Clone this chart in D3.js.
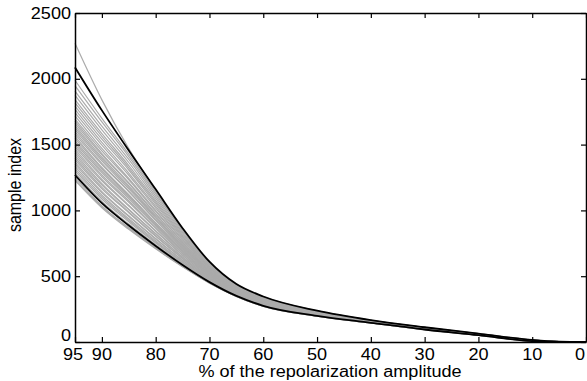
<!DOCTYPE html>
<html><head><meta charset="utf-8">
<script src="https://cdn.jsdelivr.net/npm/d3@7"></script>
<style>body{margin:0;background:#fff}svg{display:block}</style>
</head><body><svg id="c" width="587" height="381"></svg>
<script>
const xPercent = [95,90,85,80,75,70,65,60,50,40,30,20,10,5,0];
const xTickValues = [95,90,80,70,60,50,40,30,20,10,0];
const yTickValues = [0,500,1000,1500,2000,2500];
const upperBlack = [2087,1760,1455,1160,865,610,440,346,238,166,112,64,16,3,0];
const lowerBlack = [1269,1055,885,730,585,455,350,275,198,146,95,52,6,0,0];
const grayCurves = [
 [1228,1020,856,708,571,447,346,271,196,145,94,51,6,0,0],
 [1236,1030,868,717,577,450,347,273,197,145,94,52,6,0,0],
 [1253,1034,862,713,574,449,347,272,196,145,94,52,6,0,0],
 [1269,1059,891,734,588,457,351,276,198,146,95,52,6,0,0],
 [1285,1069,896,739,591,458,352,276,199,146,95,52,6,0,0],
 [1302,1087,914,752,599,463,354,279,200,147,96,53,7,0,0],
 [1318,1101,925,760,605,466,356,280,201,147,96,53,7,0,0],
 [1334,1115,936,769,610,469,358,281,202,148,97,53,7,0,0],
 [1351,1133,953,782,619,473,360,283,203,148,97,53,7,0,0],
 [1367,1143,959,786,621,475,361,284,203,149,97,54,7,0,0],
 [1384,1164,982,803,633,481,365,287,205,149,98,54,8,1,0],
 [1400,1175,988,807,635,483,365,288,205,150,98,54,8,1,0],
 [1416,1192,1005,820,644,487,368,290,206,150,99,55,8,1,0],
 [1433,1203,1010,825,647,489,369,290,207,150,99,55,8,1,0],
 [1449,1224,1033,842,658,495,372,293,208,151,99,55,9,1,0],
 [1465,1235,1039,846,661,496,373,294,209,151,100,55,9,1,0],
 [1482,1256,1062,863,672,502,377,297,210,152,100,56,9,1,0],
 [1498,1270,1073,872,677,505,378,298,211,153,101,56,9,1,0],
 [1514,1288,1090,885,686,510,381,300,212,153,101,56,10,1,0],
 [1531,1302,1102,893,691,513,383,302,213,154,101,57,10,1,0],
 [1547,1316,1113,902,697,516,384,303,214,154,102,57,10,1,0],
 [1563,1326,1119,906,700,518,385,304,214,154,102,57,10,1,0],
 [1580,1348,1142,924,711,524,389,307,216,155,103,57,10,1,0],
 [1596,1358,1147,928,714,525,390,307,216,155,103,58,11,1,0],
 [1613,1376,1164,941,722,530,392,309,218,156,103,58,11,1,0],
 [1629,1390,1176,949,728,533,394,311,218,156,104,58,11,2,0],
 [1645,1404,1187,958,733,536,396,312,219,157,104,58,11,2,0],
 [1662,1422,1204,971,742,541,398,314,220,157,105,59,12,2,0],
 [1678,1432,1210,975,745,542,399,315,221,157,105,59,12,2,0],
 [1694,1453,1233,992,756,548,402,318,222,158,105,59,12,2,0],
 [1719,1471,1244,1001,761,551,404,319,223,159,106,60,12,2,0],
 [1743,1496,1267,1018,773,558,408,322,225,159,106,60,13,2,0],
 [1768,1517,1284,1031,781,562,410,324,226,160,107,60,13,2,0],
 [1793,1541,1307,1048,792,568,414,327,228,161,108,61,13,2,0],
 [1817,1563,1324,1061,801,573,416,329,229,161,108,61,14,2,0],
 [1842,1584,1341,1074,809,577,419,331,230,162,109,62,14,2,0],
 [1874,1612,1364,1091,820,584,422,334,232,163,109,62,14,3,0],
 [1907,1640,1387,1108,831,590,426,337,233,164,110,63,15,3,0],
 [1948,1672,1409,1126,843,596,429,339,235,164,111,63,15,3,0],
 [1989,1700,1427,1139,851,600,432,342,236,165,111,63,16,3,0],
 [2270,1840,1470,1155,860,604,434,344,237,165,111,63,16,3,0]
];
const xLabel = "% of the repolarization amplitude";
const yLabel = "sample index";

const m = {l:75, r:586, t:13, b:342};
const svg = d3.select("#c");
const x = d3.scaleLinear().domain([95,0]).range([m.l,m.r]);
const y = d3.scaleLinear().domain([0,2500]).range([m.b,m.t]);
const line = d3.line().x((d,i)=>x(xPercent[i])).y(d=>y(d)).curve(d3.curveMonotoneX);

const plot = svg.append("g");
plot.selectAll("path.gray").data(grayCurves).join("path")
  .attr("class","gray").attr("d",line).attr("fill","none")
  .attr("stroke","#ababab").attr("stroke-width",1.2);
plot.selectAll("path.blk").data([lowerBlack, upperBlack]).join("path")
  .attr("class","blk").attr("d",line).attr("fill","none")
  .attr("stroke","#000").attr("stroke-width",1.8);

function styleAxis(g){
  g.select(".domain").attr("stroke","#000").attr("stroke-width",1.5);
  g.selectAll(".tick line").attr("stroke","#000").attr("stroke-width",1.2);
  g.selectAll("text").remove();
}
svg.append("g").attr("transform",`translate(0,${m.b})`)
  .call(d3.axisBottom(x).tickValues(xTickValues).tickSize(-5).tickSizeOuter(0)).call(styleAxis);
svg.append("g").attr("transform",`translate(0,${m.t})`)
  .call(d3.axisTop(x).tickValues(xTickValues).tickSize(-5).tickSizeOuter(0)).call(styleAxis);
svg.append("g").attr("transform",`translate(${m.l},0)`)
  .call(d3.axisLeft(y).tickValues(yTickValues).tickSize(-5).tickSizeOuter(0)).call(styleAxis);
svg.append("g").attr("transform",`translate(${m.r},0)`)
  .call(d3.axisRight(y).tickValues(yTickValues).tickSize(-5).tickSizeOuter(0)).call(styleAxis);

const sx = 1.13;
const font = "'Liberation Sans', Arial, Helvetica, sans-serif";
function txt(xp, yp, s, anchor){
  svg.append("text").attr("transform",`translate(${xp},${yp}) scale(${sx},1)`)
    .attr("text-anchor",anchor).style("font-family",font).style("font-size","16px")
    .attr("fill","#000").text(s);
}
xTickValues.forEach(v => txt(x(v) + (v===95?-2:(v===0?-6:0)), 359.5, v, "middle"));
yTickValues.forEach(v => txt(71, y(v) + (v===0?-1:5.5), v, "end"));
txt(330, 377, xLabel, "middle");
svg.append("text").attr("transform",`translate(21,185) scale(${sx},1) rotate(-90)`)
  .attr("text-anchor","middle").style("font-family",font).style("font-size","16px")
  .attr("fill","#000").text(yLabel);
</script></body></html>
